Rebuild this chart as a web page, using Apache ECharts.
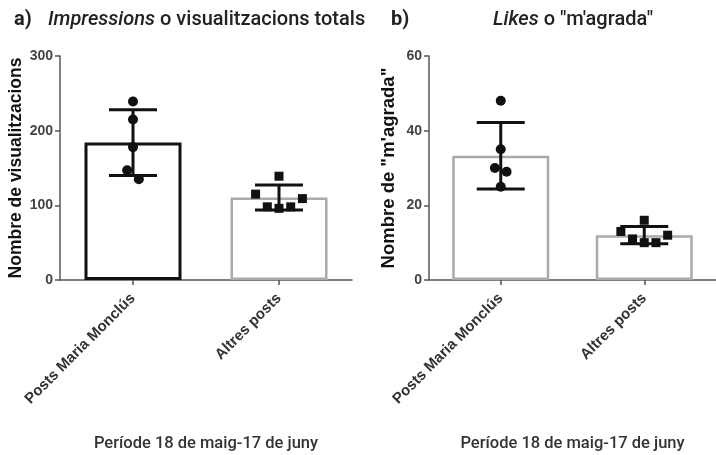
<!DOCTYPE html>
<html>
<head>
<meta charset="utf-8">
<script src="https://cdn.jsdelivr.net/npm/echarts@6/dist/echarts.min.js"></script>
<style>
html,body{margin:0;padding:0;background:#fff;}
#c{width:716px;height:455px;}
</style>
</head>
<body>
<div id="c"></div>
<script>
// ---- data ----
const categories = ['Posts Maria Monclús', 'Altres posts'];
// panel a) impressions
const impressionsMean = [184, 110.5];
const impressionsSD = [44, 16.8];
const impressionsMaria = [239, 215, 178, 147, 135];
const impressionsAltres = [139, 115, 109, 98, 96, 98];
const impressionsTicks = [0, 100, 200, 300];
// panel b) likes
const likesMean = [33.3, 12];
const likesSD = [8.9, 2.3];
const likesMaria = [48, 35, 30, 29, 25];
const likesAltres = [16, 13, 12, 11, 10, 10];
const likesTicks = [0, 20, 40, 60];

const FONT = 'Liberation Sans, Arial, sans-serif';
const TFONT = 'Roboto, Liberation Sans, Arial, sans-serif';
const chart = echarts.init(document.getElementById('c'), null, {renderer: 'canvas'});

function yAxisFor(gridIndex, ticks, name, gap, size) {
  return {
    type: 'value', gridIndex: gridIndex,
    min: ticks[0], max: ticks[ticks.length - 1], interval: ticks[1] - ticks[0],
    name: name, nameLocation: 'middle', nameGap: gap, nameRotate: 90,
    nameTextStyle: {fontFamily: FONT, fontWeight: 'bold', fontSize: size, color: '#111'},
    axisLine: {show: true, lineStyle: {color: '#555', width: 1.5}},
    axisTick: {show: true, length: 5, lineStyle: {color: '#555', width: 1.5}},
    axisLabel: {fontFamily: FONT, fontWeight: 'bold', fontSize: 14, color: '#444', margin: 7},
    splitLine: {show: false}
  };
}
function xAxisFor(gridIndex) {
  return {
    type: 'category', gridIndex: gridIndex, data: categories,
    name: 'Període 18 de maig-17 de juny', nameLocation: 'middle', nameGap: 155,
    nameTextStyle: {fontFamily: TFONT, fontWeight: 500, fontSize: 16.5, color: '#333'},
    axisLine: {show: true, lineStyle: {color: '#555', width: 1.5}},
    axisTick: {show: true, alignWithLabel: true, length: 5, lineStyle: {color: '#555', width: 1.5}},
    axisLabel: {rotate: 45, fontFamily: FONT, fontWeight: 'bold', fontSize: 15, color: '#333', margin: 16, interval: 0},
    splitLine: {show: false}
  };
}
function barSeries(axisIndex, means, borderColors) {
  return {
    type: 'bar', xAxisIndex: axisIndex, yAxisIndex: axisIndex,
    barWidth: 97, silent: true, z: 2,
    data: means.map((m, i) => ({value: m, itemStyle: {color: '#fff', borderColor: borderColors[i], borderWidth: borderColors[i] === '#111' ? 3 : 2.5}}))
  };
}
function errSeries(axisIndex, means, sds) {
  return {
    type: 'custom', xAxisIndex: axisIndex, yAxisIndex: axisIndex, z: 4, silent: true,
    data: means.map((m, i) => [i, m - sds[i], m + sds[i]]),
    renderItem: function (params, api) {
      const x = api.value(0);
      const lo = api.coord([x, api.value(1)]);
      const hi = api.coord([x, api.value(2)]);
      const hw = 24;
      const st = {stroke: '#111', lineWidth: 3};
      return {type: 'group', children: [
        {type: 'line', shape: {x1: lo[0], y1: lo[1], x2: hi[0], y2: hi[1]}, style: st},
        {type: 'line', shape: {x1: lo[0] - hw, y1: lo[1], x2: lo[0] + hw, y2: lo[1]}, style: st},
        {type: 'line', shape: {x1: hi[0] - hw, y1: hi[1], x2: hi[0] + hw, y2: hi[1]}, style: st}
      ]};
    }
  };
}
function pointSeries(axisIndex, cat, values, symbol, size, offsets) {
  return {
    type: 'scatter', xAxisIndex: axisIndex, yAxisIndex: axisIndex, z: 5, silent: true,
    symbol: symbol, symbolSize: size,
    itemStyle: {color: '#111', opacity: 1},
    data: values.map((v, i) => ({value: [cat, v], symbolOffset: [offsets ? offsets[i] : 0, 0]}))
  };
}

function buildOption(off) {
  const tstyle = {fontFamily: TFONT, fontSize: 20, fontWeight: 500, color: '#222'};
  return {
    animation: false,
    backgroundColor: '#fff',
    title: [
      {text: 'a)', left: 9, top: 5, textStyle: Object.assign({}, tstyle, {fontWeight: 'bold'})},
      {text: '{i|Impressions} o visualitzacions totals', left: 43, top: 5,
        textStyle: Object.assign({}, tstyle, {rich: {i: Object.assign({}, tstyle, {fontStyle: 'italic'})}})},
      {text: 'b)', left: 386, top: 5, textStyle: Object.assign({}, tstyle, {fontWeight: 'bold'})},
      {text: '{i|Likes} o "m\'agrada"', left: 488, top: 5,
        textStyle: Object.assign({}, tstyle, {rich: {i: Object.assign({}, tstyle, {fontStyle: 'italic'})}})}
    ],
    grid: [
      {left: 60, top: 56, width: 292, height: 224, containLabel: false},
      {left: 429, top: 56, width: 293, height: 224, containLabel: false}
    ],
    xAxis: [xAxisFor(0), xAxisFor(1)],
    yAxis: [yAxisFor(0, impressionsTicks, 'Nombre de visualitzacions', 35, 17.5),
            yAxisFor(1, likesTicks, 'Nombre de "m\'agrada"', 31, 18.5)],
    series: [
      barSeries(0, impressionsMean, ['#111', '#aaa']),
      barSeries(1, likesMean, ['#aaa', '#aaa']),
      errSeries(0, impressionsMean, impressionsSD),
      errSeries(1, likesMean, likesSD),
      pointSeries(0, 0, impressionsMaria, 'circle', 10, off && off[0]),
      pointSeries(0, 1, impressionsAltres, 'rect', 9, off && off[1]),
      pointSeries(1, 0, likesMaria, 'circle', 10, off && off[2]),
      pointSeries(1, 1, likesAltres, 'rect', 9, off && off[3])
    ]
  };
}

chart.setOption(buildOption(null));

// column-scatter layout: points closer than `gap` px (through the axis scale)
// are grouped into a row and spread sideways, lowest value in the middle
function swarm(values, yAxisIndex, gap, spacing) {
  const px = values.map(v => chart.convertToPixel({yAxisIndex: yAxisIndex}, v));
  const order = values.map((v, i) => i).sort((a, b) => px[b] - px[a]);
  const off = values.map(() => 0);
  let cluster = [];
  const flush = () => {
    const n = cluster.length;
    cluster.forEach((k, j) => {
      let pos;
      if (n % 2 === 1) {
        const step = Math.ceil(j / 2);
        pos = (j % 2 === 1 ? 1 : -1) * step * spacing;
      } else {
        const step = Math.floor(j / 2) + 0.5;
        pos = (j % 2 === 0 ? 1 : -1) * step * spacing;
      }
      off[k] = pos;
    });
    cluster = [];
  };
  order.forEach(k => {
    if (cluster.length && px[cluster[cluster.length - 1]] - px[k] >= gap) flush();
    cluster.push(k);
  });
  flush();
  return off;
}
const offsets = [
  swarm(impressionsMaria, 0, 9.5, 11.7),
  swarm(impressionsAltres, 0, 9.5, 11.7),
  swarm(likesMaria, 1, 9.5, 11.7),
  swarm(likesAltres, 1, 9.5, 11.7)
];
chart.setOption(buildOption(offsets), true);
</script>
</body>
</html>
